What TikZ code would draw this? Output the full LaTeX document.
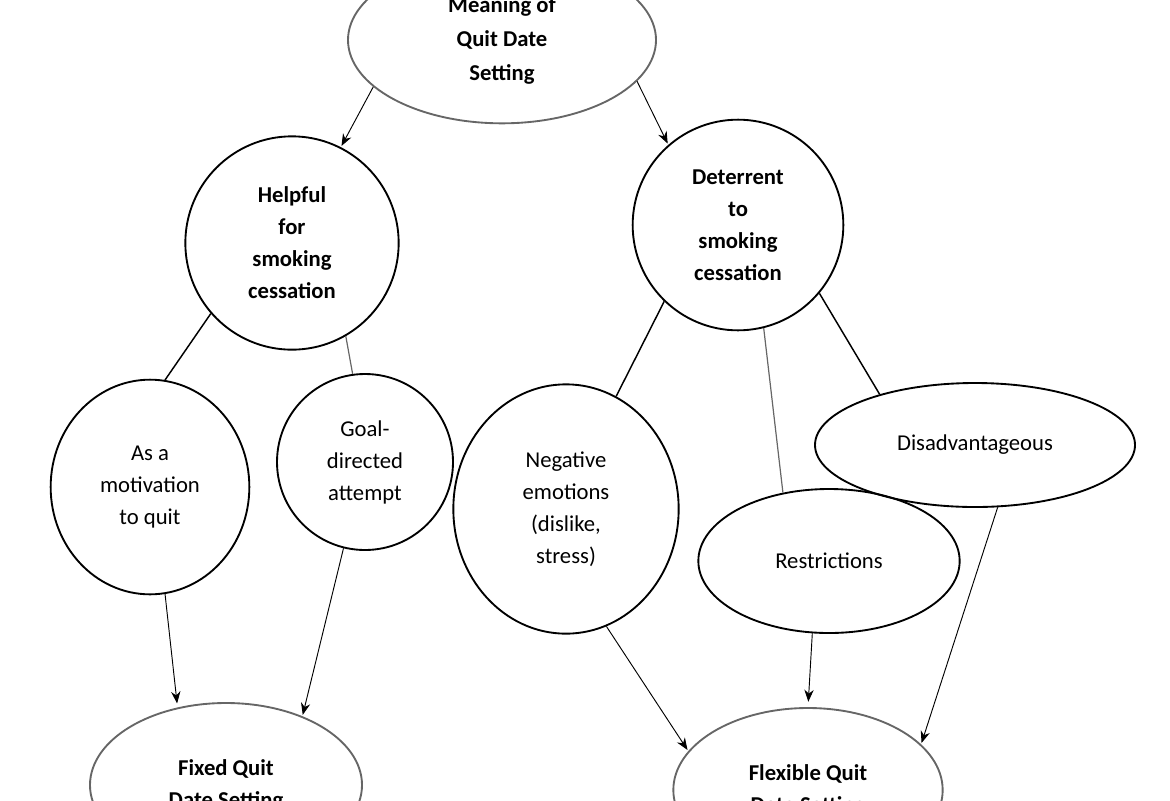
\documentclass[tikz,border=0pt]{standalone}
\usepackage{fontspec}
\setmainfont{Carlito}
\usetikzlibrary{shapes.geometric,arrows.meta}
\begin{document}
\begin{tikzpicture}[x=0.75pt,y=-0.75pt,
  el/.style={ellipse,draw,line width=1.4pt,inner sep=0pt,align=center,font=\fontsize{17}{24}\selectfont},
  bf/.style={font=\bfseries\fontsize{17}{24}\selectfont},
  gr/.style={draw=gray!80!black},
  ln/.style={line width=1.1pt},
  ar/.style={-{Stealth[length=9pt,width=7pt]},line width=0.7pt,shorten >=1pt}]
\useasboundingbox (0,0) rectangle (1170,800);
\clip (0,0) rectangle (1170,800);
\node[el,gr,bf,minimum width=231pt,minimum height=125pt,font=\bfseries\fontsize{17}{25.5}\selectfont] (top) at (502,40) {Meaning of\\Quit Date\\Setting};
\node[el,bf,minimum width=160pt,minimum height=160pt] (help) at (292,243) {Helpful\\for\\smoking\\cessation};
\node[el,bf,minimum width=158pt,minimum height=158pt] (det) at (738,225) {Deterrent\\to\\smoking\\cessation};
\node[el,minimum width=149pt,minimum height=161pt] (mot) at (150,487) {As a\\motivation\\to quit};
\node[el,minimum width=132pt,minimum height=132pt] (goal) at (365,462) {Goal-\\directed\\attempt};
\node[el,minimum width=169pt,minimum height=187pt] (neg) at (566,509) {Negative\\emotions\\(dislike,\\stress)};
\node[el,minimum width=196pt,minimum height=108pt] (res) at (829,561) {Restrictions};
\node[el,minimum width=240pt,minimum height=93pt] (dis) at (975,445) {Disadvantageous};
\node[el,gr,bf,minimum width=204pt,minimum height=123pt] (fix) at (226,785) {Fixed Quit\\Date Setting};
\node[el,gr,bf,minimum width=202pt,minimum height=123pt] (flex) at (808,790) {Flexible Quit\\Date Setting};
\draw[ar] (top.200) -- (help.63);
\draw[ar] (top.343) -- (det.131);
\draw[ln] (help.221) -- (mot.82);
\draw[ln,gray!80!black,line width=0.9pt] (help.300) -- (goal.98);
\draw[ln] (det.226) -- (neg.66);
\draw[ln,gray!80!black,line width=0.9pt] (det.284) -- (res.124);
\draw[ln] (det.320) -- (dis.152);
\draw[ar,shorten >=3pt] (mot.278) -- (fix.122);
\draw[ar] (goal.256) -- (fix.42);
\draw[ar] (neg.289) -- (flex.162);
\draw[ar,shorten >=4pt] (res.257) -- (flex.90);
\draw[ar] (dis.290) -- (flex.22);
\end{tikzpicture}
\end{document}
